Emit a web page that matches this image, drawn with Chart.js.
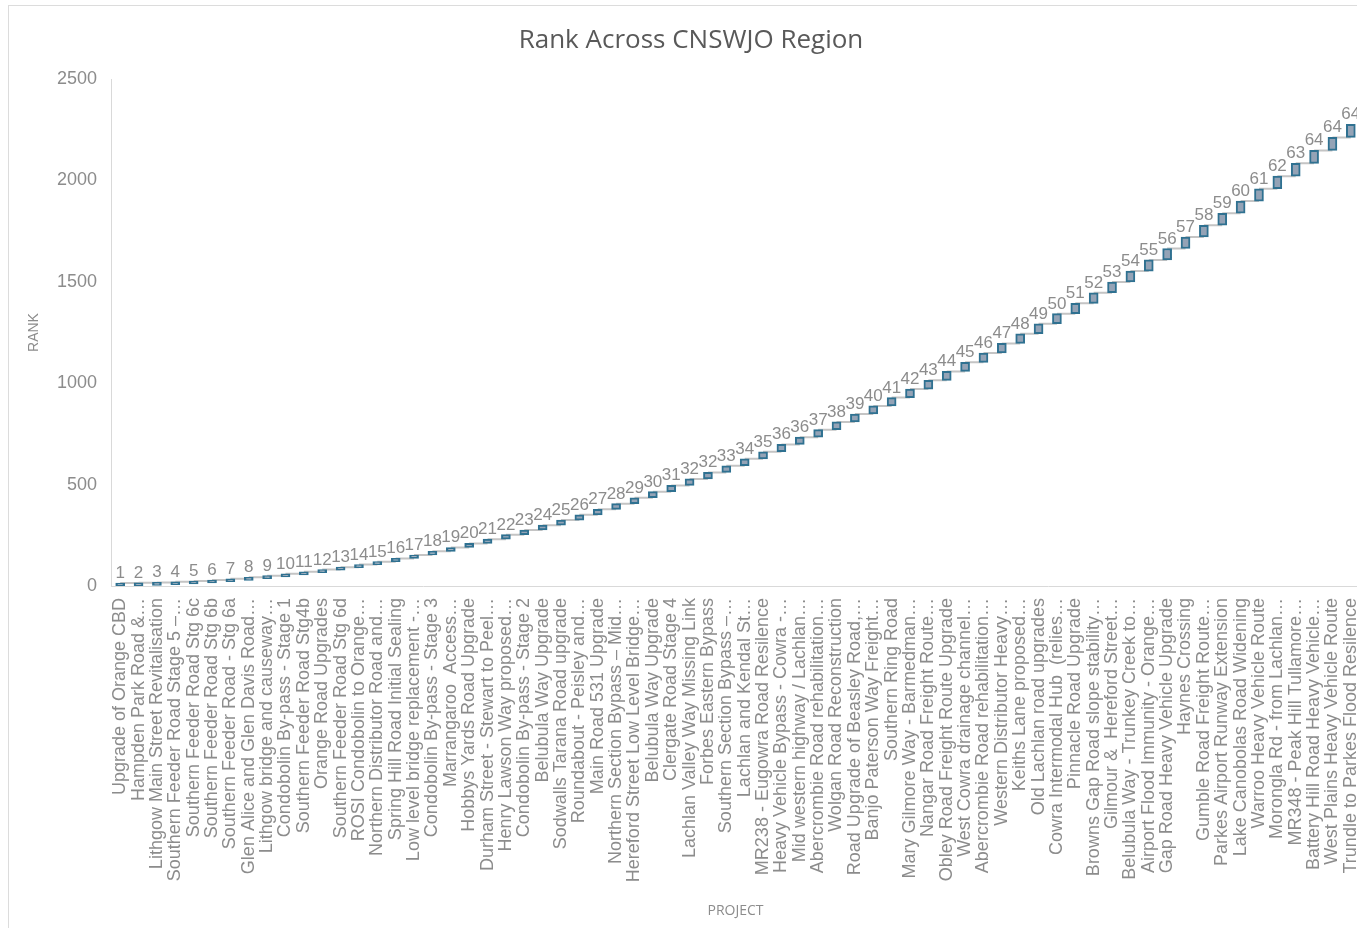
<!DOCTYPE html>
<html>
<head>
<meta charset="utf-8">
<title>Rank Across CNSWJO Region</title>
<script src="https://cdn.jsdelivr.net/npm/chart.js@4.4.1/dist/chart.umd.min.js"></script>
<style>
  html, body { margin: 0; padding: 0; background: #fff; overflow: hidden; }
  .panel { position: absolute; left: 8px; top: 5px; width: 1400px; height: 950px; border-top: 1px solid #dcdcdc; border-left: 1px solid #dcdcdc; }
  #chart { position: absolute; left: 0; top: 0; }
</style>
</head>
<body>
<div class="panel"></div>
<canvas id="chart" width="1372" height="928"></canvas>
<script>
// Data
const chartTitle = 'Rank Across CNSWJO Region';
const projects = [
    'Upgrade of Orange CBD',
    'Hampden Park Road &…',
    'Lithgow Main Street Revitalisation',
    'Southern Feeder Road Stage 5 –…',
    'Southern Feeder Road Stg 6c',
    'Southern Feeder Road Stg 6b',
    'Southern Feeder Road - Stg 6a',
    'Glen Alice and Glen Davis Road…',
    'Lithgow bridge and causeway…',
    'Condobolin By-pass - Stage 1',
    'Southern Feeder Road Stg4b',
    'Orange Road Upgrades',
    'Southern Feeder Road Stg 6d',
    'ROSI Condobolin to Orange…',
    'Northern Distributor Road and…',
    'Spring Hill Road Initial Sealing',
    'Low level bridge replacement -…',
    'Condobolin By-pass - Stage 3',
    'Marrangaroo  Access…',
    'Hobbys Yards Road Upgrade',
    'Durham Street - Stewart to Peel…',
    'Henry Lawson Way proposed…',
    'Condobolin By-pass - Stage 2',
    'Belubula Way Upgrade',
    'Sodwalls Tarana Road upgrade',
    'Roundabout - Peisley and…',
    'Main Road 531 Upgrade',
    'Northern Section Bypass – Mid…',
    'Hereford Street Low Level Bridge…',
    'Belubula Way Upgrade',
    'Clergate Road Stage 4',
    'Lachlan Valley Way Missing Link',
    'Forbes Eastern Bypass',
    'Southern Section Bypass –…',
    'Lachlan and Kendal St…',
    'MR238 - Eugowra Road Resilence',
    'Heavy Vehicle Bypass - Cowra -…',
    'Mid western highway / Lachlan…',
    'Abercrombie Road rehabilitation…',
    'Wolgan Road Reconstruction',
    'Road Upgrade of Beasley Road,…',
    'Banjo Paterson Way Freight…',
    'Southern Ring Road',
    'Mary Gilmore Way - Barmedman…',
    'Nangar Road Freight Route…',
    'Obley Road Freight Route Upgrade',
    'West Cowra drainage channel…',
    'Abercrombie Road rehabilitation…',
    'Western Distributor Heavy…',
    'Keiths Lane proposed…',
    'Old Lachlan road upgrades',
    'Cowra Intermodal Hub  (relies…',
    'Pinnacle Road Upgrade',
    'Browns Gap Road slope stability…',
    'Gilmour &  Hereford Street…',
    'Belubula Way - Trunkey Creek to…',
    'Airport Flood Immunity - Orange…',
    'Gap Road Heavy Vehicle Upgrade',
    'Haynes Crossing',
    'Gumble Road Freight Route…',
    'Parkes Airport Runway Extension',
    'Lake Canobolas Road Widening',
    'Warroo Heavy Vehicle Route',
    'Morongla Rd - from Lachlan…',
    'MR348 - Peak Hill Tullamore…',
    'Battery Hill Road Heavy Vehicle…',
    'West Plains Heavy Vehicle Route',
    'Trundle to Parkes Flood Resilence'
];
const ranks = [
    1, 2, 3, 4, 5, 6, 7, 8, 9, 10, 11, 12, 13, 14, 15, 16, 17, 18, 19, 20,
    21, 22, 23, 24, 25, 26, 27, 28, 29, 30, 31, 32, 32, 33, 34, 35, 36, 36, 37, 38,
    39, 40, 41, 42, 43, 44, 45, 46, 47, 48, 49, 50, 51, 52, 53, 54, 55, 56, 57, 58,
    59, 60, 61, 62, 63, 64, 64, 64
];
const yTicks = [0, 500, 1000, 1500, 2000, 2500];

// Waterfall: every bar floats from the running total to running total + rank
let runningTotal = 0;
const floatingBars = ranks.map(v => {
    const range = [runningTotal, runningTotal + v];
    runningTotal += v;
    return range;
});

const labelGrey = '#8c8c8c';

// Grey connector lines between the bars (drawn behind them)
const connectorPlugin = {
    id: 'connectors',
    beforeDatasetsDraw(chart) {
        const bars = chart.getDatasetMeta(0).data;
        const ctx = chart.ctx;
        ctx.save();
        ctx.strokeStyle = '#c4c4c4';
        ctx.lineWidth = 2;
        ctx.beginPath();
        for (let i = 0; i < bars.length - 1; i++) {
            ctx.moveTo(bars[i].x, bars[i].y);
            ctx.lineTo(bars[i + 1].x, bars[i].y);
        }
        ctx.stroke();
        ctx.restore();
    }
};

// Value labels above each bar
const valueLabelPlugin = {
    id: 'valueLabels',
    afterDatasetsDraw(chart) {
        const bars = chart.getDatasetMeta(0).data;
        const ctx = chart.ctx;
        ctx.save();
        ctx.fillStyle = labelGrey;
        ctx.font = '17px "Liberation Sans", Arial, sans-serif';
        ctx.textAlign = 'center';
        ctx.textBaseline = 'alphabetic';
        bars.forEach((bar, i) => {
            ctx.fillText(String(ranks[i]), bar.x, bar.y - 5);
        });
        ctx.restore();
    }
};

// Title centred over the whole chart panel
const titlePlugin = {
    id: 'panelTitle',
    afterDraw(chart) {
        const ctx = chart.ctx;
        ctx.save();
        ctx.fillStyle = '#595959';
        ctx.font = '26px "Open Sans", sans-serif';
        ctx.textAlign = 'center';
        ctx.textBaseline = 'middle';
        ctx.fillText(chartTitle, 691, 41);
        ctx.restore();
    }
};

const ctx = document.getElementById('chart').getContext('2d');
new Chart(ctx, {
    type: 'bar',
    data: {
        labels: projects,
        datasets: [{
            label: 'Rank',
            data: floatingBars,
            backgroundColor: '#94a3b6',
            borderColor: '#2f7191',
            borderWidth: 2,
            borderSkipped: false,
            barThickness: 9,
            minBarLength: 3
        }]
    },
    options: {
        responsive: false,
        animation: false,
        devicePixelRatio: 1,
        layout: { padding: { top: 79, right: 12, left: 0, bottom: 0 } },
        plugins: {
            legend: { display: false },
            title: { display: false },
            tooltip: { enabled: false }
        },
        scales: {
            x: {
                grid: { display: false, drawTicks: false },
                border: { display: true, color: '#d9d9d9', width: 1 },
                ticks: {
                    autoSkip: false,
                    minRotation: 90,
                    maxRotation: 90,
                    padding: 12,
                    color: labelGrey,
                    font: { family: '"Liberation Sans", Arial, sans-serif', size: 18 }
                },
                title: {
                    display: true,
                    text: 'PROJECT',
                    color: labelGrey,
                    font: { family: '"Open Sans", sans-serif', size: 14 },
                    padding: { top: 0, bottom: 9 }
                },
                afterFit(scale) {
                    scale.height = 342;
                    scale.paddingLeft = 0;
                    scale.paddingRight = 0;
                }
            },
            y: {
                min: yTicks[0],
                max: yTicks[yTicks.length - 1],
                grid: { display: false, drawTicks: false },
                border: { display: true, color: '#d9d9d9', width: 1 },
                ticks: {
                    stepSize: yTicks[1] - yTicks[0],
                    padding: 14,
                    color: labelGrey,
                    font: { family: '"Liberation Sans", Arial, sans-serif', size: 18 },
                    callback: value => String(value)
                },
                title: {
                    display: true,
                    text: 'RANK',
                    color: labelGrey,
                    font: { family: '"Liberation Sans", Arial, sans-serif', size: 14 },
                    padding: { top: 26, bottom: 0 }
                },
                afterFit(scale) {
                    scale.width = 111;
                    scale.paddingTop = 0;
                    scale.paddingBottom = 0;
                }
            }
        }
    },
    plugins: [connectorPlugin, valueLabelPlugin, titlePlugin]
});
</script>
</body>
</html>
